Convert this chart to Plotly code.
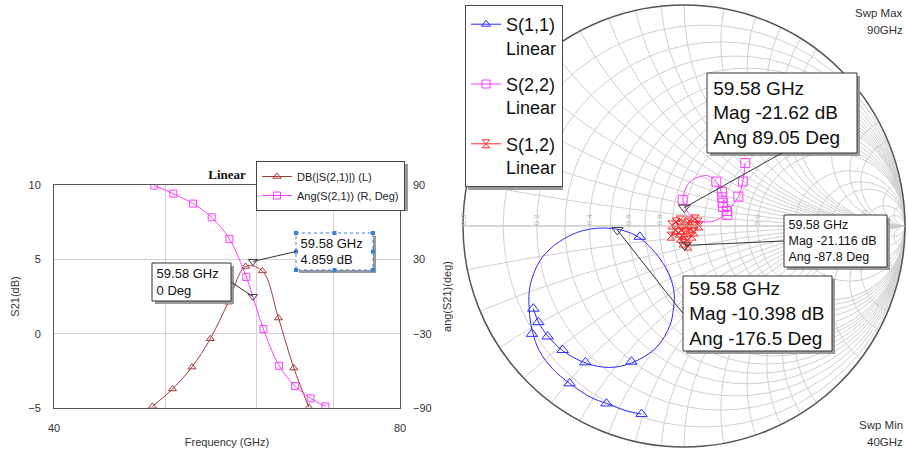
import numpy as np
import plotly.graph_objects as go

W, H = 907, 452

# ---------------- Left chart data: S21 vs frequency ----------------
freq_db = [48.73, 50.72, 52.73, 54.71, 56.72, 58.72, 60.72, 62.71, 64.67, 66.65]
s21_db = [-4.89, -3.72, -2.25, -0.34, 2.12, 4.52, 4.22, 1.05, -2.31, -4.95]
freq_ang = [48.9, 50.8, 52.85, 54.86, 56.84, 58.8, 60.85, 62.8, 64.84, 66.88, 68.9]
s21_ang = [89.5, 83.0, 75.0, 63.9, 46.5, 15.8, -26.3, -55.9, -72.3, -82.2, -88.7]
mk_freq = 59.58
mk_db = 4.859
mk_deg = 0.0

x_tickvals = [40, 50, 60, 70, 80]
x_ticktext = ["40", "", "", "", "80"]
y_tickvals = [-5, 0, 5, 10]
y2_tickvals = [-90, -30, 30, 90]

# ---------------- Smith chart data (reflection coefficient re / im) ----------------
s11_re = [-0.192, -0.261, -0.351, -0.420, -0.518, -0.594, -0.655, -0.685, -0.698, -0.700,
          -0.677, -0.640, -0.564, -0.458, -0.329, -0.208, -0.094, -0.046, -0.050, -0.064,
          -0.124, -0.238, -0.336, -0.442, -0.549, -0.617, -0.655, -0.682]
s11_im = [-0.851, -0.836, -0.803, -0.776, -0.712, -0.647, -0.564, -0.481, -0.405, -0.291,
          -0.208, -0.140, -0.071, -0.021, -0.011, -0.049, -0.170, -0.291, -0.391, -0.450,
          -0.549, -0.620, -0.640, -0.621, -0.564, -0.496, -0.442, -0.374]
s11_mk_re = [-0.192, -0.351, -0.518, -0.688, -0.682, -0.659, -0.617, -0.549, -0.446, -0.238, -0.200]
s11_mk_im = [-0.851, -0.803, -0.712, -0.488, -0.374, -0.435, -0.500, -0.561, -0.617, -0.614, -0.049]

s22_re = [0.277, 0.266, 0.246, 0.223, 0.196, 0.155, 0.109, 0.059, 0.023, 0.005, -0.005,
          0.005, 0.027, 0.064, 0.109, 0.146, 0.164, 0.173, 0.180, 0.173, 0.186]
s22_im = [0.285, 0.201, 0.133, 0.100, 0.059, 0.030, 0.018, 0.027, 0.055, 0.086, 0.118,
          0.164, 0.200, 0.221, 0.227, 0.201, 0.168, 0.136, 0.105, 0.082, 0.068]
s22_mk_re = [0.277, 0.266, 0.246, 0.146, -0.006, 0.171, 0.173, 0.175, 0.177, 0.194, 0.196]
s22_mk_im = [0.285, 0.201, 0.133, 0.201, 0.118, 0.155, 0.130, 0.105, 0.086, 0.068, 0.050]

s12_re = [-0.055, -0.018, 0.018, 0.050, 0.068, 0.027, -0.009, -0.041, -0.059, -0.023, 0.009,
          0.046, 0.064, 0.023, -0.014, -0.036, 0.000, 0.036, 0.014, -0.018, -0.005, 0.018]
s12_im = [0.005, 0.027, 0.014, 0.032, 0.000, -0.014, 0.009, -0.018, -0.046, -0.032, -0.005,
          -0.027, 0.018, 0.023, -0.018, 0.018, -0.032, -0.046, -0.064, -0.055, -0.077, -0.091]

# marker readouts at 59.58 GHz: S(1,1), S(2,2), S(1,2)
mk_mag_db = [-10.398, -21.62, -21.116]
mk_ang_deg = [-176.5, 89.05, -87.8]

r_grid = [0.1, 0.2, 0.3, 0.4, 0.5, 0.6, 0.7, 0.8, 0.9, 1.0, 1.2, 1.4, 1.6, 1.8, 2.0, 3.0, 4.0, 5.0, 10.0, 20.0]
x_grid = sorted([-v for v in r_grid] + [0.0] + r_grid)
r_labels = [0.0, 0.2, 0.4, 0.6, 0.8, 1.0, 2.0, 3.0, 4.0, 5.0, 10.0]


def to_z(re, im):
    g = np.asarray(re, dtype=float) + 1j * np.asarray(im, dtype=float)
    z = (1 + g) / (1 - g)
    return z.real, z.imag


mk_gamma = 10 ** (np.array(mk_mag_db) / 20) * np.exp(1j * np.deg2rad(mk_ang_deg))

# ---------------- geometry ----------------
LX0, LX1, LY0, LY1 = 54, 400, 185, 408          # left plot area (px)
SX0, SX1, SY0, SY1 = 463, 905, 5, 447           # smith domain (px)
SCX, SCY, SR = (SX0 + SX1) / 2, (SY0 + SY1) / 2, min(SX1 - SX0, SY1 - SY0) / 2

XR = [np.log10(40), np.log10(80)]
YR = [-5, 10]
Y2R = [-90, 90]


def left_px(f, v, rng):
    px = LX0 + (np.log10(f) - XR[0]) / (XR[1] - XR[0]) * (LX1 - LX0)
    py = LY1 - (v - rng[0]) / (rng[1] - rng[0]) * (LY1 - LY0)
    return px, py


def smith_px(g):
    return SCX + SR * g.real, SCY - SR * g.imag


BROWN = "#a33a3a"
MAG = "#ff3cff"
BLUE = "#2b2bff"
RED = "#ff2a2a"
MKC = "#444444"

fig = go.Figure()

# ---- left traces ----
fig.add_trace(go.Scatter(x=freq_db, y=s21_db, mode="lines+markers", name="DB(|S(2,1)|) (L)",
                         line=dict(color=BROWN, width=1, shape="spline"),
                         marker=dict(symbol="triangle-up-open", size=7, color=BROWN),
                         legend="legend"))
fig.add_trace(go.Scatter(x=freq_ang, y=s21_ang, mode="lines+markers", name="Ang(S(2,1)) (R, Deg)",
                         yaxis="y2", line=dict(color=MAG, width=1, shape="spline"),
                         marker=dict(symbol="square-open", size=7, color=MAG),
                         legend="legend"))
fig.add_trace(go.Scatter(x=[mk_freq], y=[mk_db], mode="markers", showlegend=False,
                         marker=dict(symbol="triangle-down-open", size=8, color=MKC)))
fig.add_trace(go.Scatter(x=[mk_freq], y=[mk_deg], mode="markers", showlegend=False, yaxis="y2",
                         marker=dict(symbol="triangle-down-open", size=8, color=MKC)))

# ---- smith traces ----
series = [
    ("S(1,1)<br>Linear", s11_re, s11_im, s11_mk_re, s11_mk_im, BLUE, "triangle-up-open", 10, "spline"),
    ("S(2,2)<br>Linear", s22_re, s22_im, s22_mk_re, s22_mk_im, MAG, "square-open", 9, "spline"),
    ("S(1,2)<br>Linear", s12_re, s12_im, s12_re, s12_im, RED, "hourglass-open", 8, "linear"),
]
for name, pre, pim, mre, mim, col, sym, sz, shp in series:
    zr, zi = to_z(pre, pim)
    fig.add_trace(go.Scattersmith(real=zr, imag=zi, mode="lines", showlegend=False, legendgroup=name,
                                  line=dict(color=col, width=1, shape=shp), subplot="smith"))
    mr, mi = to_z(mre, mim)
    fig.add_trace(go.Scattersmith(real=mr, imag=mi, mode="markers", showlegend=False, legendgroup=name,
                                  marker=dict(symbol=sym, size=sz, color=col, line=dict(width=1)),
                                  subplot="smith"))
    fig.add_trace(go.Scattersmith(real=[None], imag=[None], mode="lines+markers", name=name,
                                  legendgroup=name, legend="legend2", subplot="smith",
                                  line=dict(color=col, width=1),
                                  marker=dict(symbol=sym, size=8, color=col)))

mzr, mzi = to_z(mk_gamma.real, mk_gamma.imag)
fig.add_trace(go.Scattersmith(real=mzr, imag=mzi, mode="markers", showlegend=False, subplot="smith",
                              marker=dict(symbol="triangle-down-open", size=10, color=MKC,
                                          line=dict(width=1))))
fig.add_trace(go.Scattersmith(real=[None], imag=[None], mode="markers", showlegend=False, subplot="smith2"))

# ---- boxes (annotations + shapes) ----
shapes = []
annotations = []


def shadow(x0, y0, x1, y1, off=3):
    shapes.append(dict(type="rect", xref="paper", yref="paper", layer="above",
                       x0=(x0 + off) / W, x1=(x1 + off) / W, y0=1 - (y0 + off) / H, y1=1 - (y1 + off) / H,
                       fillcolor="#9a9a9a", line=dict(width=0)))


def box(x0, y0, x1, y1, dashed=False):
    shadow(x0, y0, x1, y1)
    shapes.append(dict(type="rect", xref="paper", yref="paper", layer="above",
                       x0=x0 / W, x1=x1 / W, y0=1 - y0 / H, y1=1 - y1 / H,
                       fillcolor="white",
                       line=dict(color="#3a7fd8" if dashed else "#333333", width=1,
                                 dash="dot" if dashed else "solid")))
    if dashed:
        for hx in (x0, (x0 + x1) / 2, x1):
            for hy in (y0, (y0 + y1) / 2, y1):
                if hx == (x0 + x1) / 2 and hy == (y0 + y1) / 2:
                    continue
                shapes.append(dict(type="rect", xref="paper", yref="paper", layer="above",
                                   x0=(hx - 2) / W, x1=(hx + 2) / W, y0=1 - (hy - 2) / H, y1=1 - (hy + 2) / H,
                                   fillcolor="#3a7fd8", line=dict(width=0)))


def label(lines, head_ref, head_px, tail_px, anchor, bw, bh, size):
    hx, hy = head_px
    tx, ty = tail_px
    text = "<br>".join("&nbsp;" + s for s in lines)
    d = dict(text=text, showarrow=True, arrowhead=0, arrowwidth=1, arrowcolor="#333333",
             ax=tx - hx, ay=ty - hy, axref="pixel", ayref="pixel",
             xanchor=anchor[0], yanchor=anchor[1], align="left",
             width=bw - 2, height=bh - 2, borderpad=1, borderwidth=0,
             bgcolor="rgba(0,0,0,0)", font=dict(size=size, color="#111111"))
    d.update(head_ref)
    annotations.append(d)


# legend shadows
shadow(255, 161, 405, 208)
shadow(465, 5, 560, 187)

# left chart marker boxes
b1 = (296, 233, 373, 270)
box(*b1, dashed=True)
label(["59.58 GHz", "4.859 dB"], dict(xref="x", yref="y", x=np.log10(mk_freq), y=mk_db),
      left_px(mk_freq, mk_db, YR), (b1[0], (b1[1] + b1[3]) / 2), ("left", "middle"),
      b1[2] - b1[0], b1[3] - b1[1], 13)
b2 = (152, 263, 231, 301)
box(*b2)
label(["59.58 GHz", "0 Deg"], dict(xref="x", yref="y2", x=np.log10(mk_freq), y=mk_deg),
      left_px(mk_freq, mk_deg, Y2R), (b2[2], (b2[1] + b2[3]) / 2), ("right", "middle"),
      b2[2] - b2[0], b2[3] - b2[1], 13)

# smith marker boxes
sp = [smith_px(g) for g in mk_gamma]
bA = (707, 73, 857, 153)
box(*bA)
label(["59.58 GHz", "Mag -21.62 dB", "Ang 89.05 Deg"],
      dict(xref="paper", yref="paper", x=sp[1][0] / W, y=1 - sp[1][1] / H),
      sp[1], ((bA[0] + bA[2]) / 2, bA[3]), ("center", "bottom"), bA[2] - bA[0], bA[3] - bA[1], 19)
bB = (784, 215, 887, 267)
box(*bB)
label(["59.58 GHz", "Mag -21.116 dB", "Ang -87.8 Deg"],
      dict(xref="paper", yref="paper", x=sp[2][0] / W, y=1 - sp[2][1] / H),
      sp[2], (bB[0], (bB[1] + bB[3]) / 2), ("left", "middle"), bB[2] - bB[0], bB[3] - bB[1], 12.5)
bC = (683, 276, 832, 351)
box(*bC)
label(["59.58 GHz", "Mag -10.398 dB", "Ang -176.5 Deg"],
      dict(xref="paper", yref="paper", x=sp[0][0] / W, y=1 - sp[0][1] / H),
      sp[0], (bC[0], (bC[1] + bC[3]) / 2), ("left", "middle"), bC[2] - bC[0], bC[3] - bC[1], 19)

for txt, yy in [("Swp Max", 13), ("90GHz", 30), ("Swp Min", 425), ("40GHz", 442)]:
    annotations.append(dict(text=txt, xref="paper", yref="paper", x=905 / W, y=1 - yy / H,
                            xanchor="right", yanchor="middle", showarrow=False,
                            font=dict(size=11.5, color="#333333")))

axis_font = dict(size=11, color="#333333")
fig.update_layout(
    width=W, height=H,
    margin=dict(l=0, r=0, t=0, b=0),
    paper_bgcolor="white", plot_bgcolor="white",
    font=dict(family="Liberation Sans, Arial, sans-serif", size=11, color="#222222"),
    title=dict(text="<b>Linear</b>", x=227 / W, y=1 - 174 / H, xanchor="center", yanchor="middle",
               font=dict(family="Liberation Serif, Times New Roman, serif", size=13, color="#111111")),
    xaxis=dict(domain=[LX0 / W, LX1 / W], type="log", range=XR, tickvals=x_tickvals, ticktext=x_ticktext,
               showgrid=True, gridcolor="#d2d2d2", showline=True, linecolor="#555555", mirror=True,
               ticks="", ticklabelstandoff=10, tickfont=axis_font, automargin=False, zeroline=False,
               title=dict(text="Frequency (GHz)", font=axis_font, standoff=5)),
    yaxis=dict(domain=[1 - LY1 / H, 1 - LY0 / H], range=YR, tickvals=y_tickvals,
               showgrid=True, gridcolor="#d2d2d2", showline=True, linecolor="#555555", mirror=True,
               ticks="", ticklabelstandoff=10, tickfont=axis_font, automargin=False, zeroline=False,
               title=dict(text="S21(dB)", font=axis_font, standoff=6)),
    yaxis2=dict(overlaying="y", side="right", anchor="x", range=Y2R, tickvals=y2_tickvals,
                showgrid=False, showline=False, ticks="", ticklabelstandoff=12, tickfont=axis_font,
                automargin=False, zeroline=False,
                title=dict(text="ang(S21)(deg)", font=axis_font, standoff=12)),
    legend=dict(x=405 / W, y=1 - 161 / H, xanchor="right", yanchor="top", bgcolor="white",
                bordercolor="#444444", borderwidth=1, font=dict(size=11, color="#222222"),
                itemwidth=30, tracegroupgap=0),
    legend2=dict(x=465 / W, y=1 - 5 / H, xanchor="left", yanchor="top", bgcolor="white",
                 bordercolor="#444444", borderwidth=1, font=dict(size=18, color="#111111"),
                 itemwidth=30, tracegroupgap=10, valign="top"),
    smith=dict(domain=dict(x=[SX0 / W, SX1 / W], y=[1 - SY1 / H, 1 - SY0 / H]), bgcolor="white",
               realaxis=dict(tickvals=r_grid, showticklabels=False, ticks="", gridcolor="#d0d0d0",
                             gridwidth=1, showline=True, linecolor="#c8c8c8"),
               imaginaryaxis=dict(tickvals=x_grid, showticklabels=False, ticks="", gridcolor="#d0d0d0",
                                  gridwidth=1, showline=True, linecolor="#555555", linewidth=1.5)),
    smith2=dict(domain=dict(x=[SX0 / W, SX1 / W], y=[1 - SY1 / H, 1 - SY0 / H]), bgcolor="rgba(0,0,0,0)",
                realaxis=dict(tickvals=r_labels, tickformat=".1f", tickangle=-90, ticks="",
                              showgrid=False, showline=False,
                              tickfont=dict(size=8, color="#b8b8b8")),
                imaginaryaxis=dict(showgrid=False, showline=False, showticklabels=False, ticks="")),
    shapes=shapes,
    annotations=annotations,
)

fig.write_html("out.html", config=dict(displayModeBar=False),
               post_script="document.body.style.margin='0';document.body.style.overflow='hidden';")
